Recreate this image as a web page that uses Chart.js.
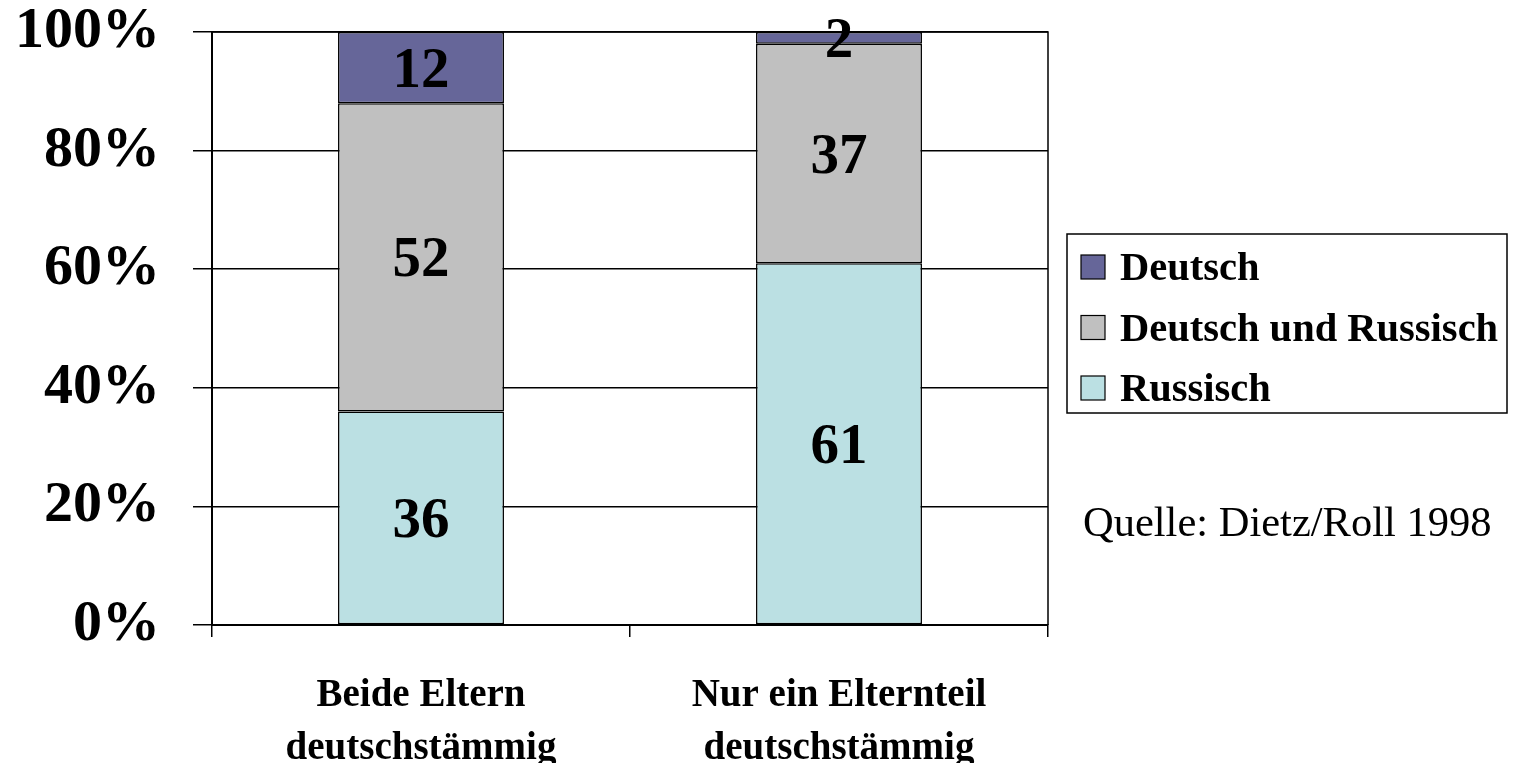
<!DOCTYPE html>
<html>
<head>
<meta charset="utf-8">
<title>Sprache</title>
<script src="https://cdn.jsdelivr.net/npm/chart.js@4/dist/chart.umd.min.js"></script>
<style>
  html, body { margin: 0; padding: 0; background: #fff; }
  #wrap { width: 1514px; height: 763px; }
</style>
</head>
<body>
<div id="wrap"><canvas id="myChart" width="1514" height="763"></canvas></div>
<script>
"use strict";

// data
const categories = [['Beide Eltern', 'deutschstämmig'], ['Nur ein Elternteil', 'deutschstämmig']];
const russisch = [36, 61];
const deutschUndRussisch = [52, 37];
const deutsch = [12, 2];
const yTickValues = [0, 20, 40, 60, 80, 100];
const sourceNote = 'Quelle: Dietz/Roll 1998';

const SERIF = "'Liberation Serif', 'Times New Roman', serif";

/* box around the plot area (right + top edge) */
const frame = {
    id: 'frame',
    beforeDatasetsDraw(chart) {
        const a = chart.chartArea, ctx = chart.ctx;
        ctx.save();
        ctx.strokeStyle = '#000';
        ctx.lineWidth = 1.5;
        ctx.beginPath();
        ctx.moveTo(a.left, a.top);
        ctx.lineTo(a.right, a.top);
        ctx.lineTo(a.right, a.bottom);
        ctx.stroke();
        ctx.restore();
    }
};

/* values written in the middle of each segment */
const segLabels = {
    id: 'segLabels',
    afterDatasetsDraw(chart) {
        const ctx = chart.ctx;
        ctx.save();
        ctx.font = 'bold 57px ' + SERIF;
        ctx.fillStyle = '#000';
        ctx.textAlign = 'center';
        ctx.textBaseline = 'alphabetic';
        chart.data.datasets.forEach((ds, i) => {
            chart.getDatasetMeta(i).data.forEach((bar, j) => {
                const p = bar.getCenterPoint();
                ctx.fillText(String(ds.data[j]), p.x, p.y + 19);
            });
        });
        ctx.restore();
    }
};

/* legend box + source note */
const sideLegend = {
    id: 'sideLegend',
    afterDraw(chart) {
        const ctx = chart.ctx;
        const bx = 1067, by = 234, bw = 440, bh = 179;
        ctx.save();
        ctx.fillStyle = '#fff';
        ctx.fillRect(bx, by, bw, bh);
        ctx.strokeStyle = '#000';
        ctx.lineWidth = 1.5;
        ctx.strokeRect(bx, by, bw, bh);

        const items = chart.data.datasets.slice().reverse();
        ctx.font = 'bold 40.5px ' + SERIF;
        ctx.textBaseline = 'alphabetic';
        items.forEach((ds, i) => {
            const cy = 267 + i * 60.5;
            ctx.fillStyle = ds.backgroundColor;
            ctx.fillRect(1081, cy - 12, 24, 24);
            ctx.lineWidth = 1.2;
            ctx.strokeStyle = '#000';
            ctx.strokeRect(1081, cy - 12, 24, 24);
            ctx.fillStyle = '#000';
            ctx.fillText(ds.label, 1120, cy + 13);
        });

        ctx.font = '42.5px ' + SERIF;
        ctx.fillText(sourceNote, 1083, 536);
        ctx.restore();
    }
};

const ctx = document.getElementById('myChart').getContext('2d');
const chart = new Chart(ctx, {
    type: 'bar',
    data: {
        labels: categories,
        datasets: [
            { label: 'Russisch', data: russisch, backgroundColor: '#BBE0E3' },
            { label: 'Deutsch und Russisch', data: deutschUndRussisch, backgroundColor: '#C0C0C0' },
            { label: 'Deutsch', data: deutsch, backgroundColor: '#666699' }
        ].map(d => Object.assign(d, {
            borderColor: '#000',
            borderWidth: 1.5,
            borderSkipped: false,
            categoryPercentage: 1,
            barPercentage: 0.397
        }))
    },
    options: {
        responsive: false,
        animation: false,
        devicePixelRatio: 1,
        layout: { padding: { top: 32, right: 466, left: 0, bottom: 0 } },
        plugins: {
            legend: { display: false },
            tooltip: { enabled: false }
        },
        scales: {
            x: {
                stacked: true,
                grid: { display: true, drawOnChartArea: false, drawTicks: true, tickLength: 12, color: '#000', lineWidth: 1.5, offset: true },
                border: { display: true, color: '#000', width: 2 },
                ticks: {
                    color: '#000',
                    padding: 32,
                    maxRotation: 0,
                    font: { family: SERIF, size: 39, weight: 'bold', lineHeight: 1.36 }
                },
                afterFit(scale) {
                    scale.height = 138;
                    scale.paddingLeft = 0;
                    scale.paddingRight = 0;
                }
            },
            y: {
                stacked: true,
                min: 0,
                max: 100,
                afterBuildTicks(scale) {
                    scale.ticks = yTickValues.map(v => ({ value: v }));
                },
                grid: { color: '#000', lineWidth: 1.5, tickLength: 19, drawTicks: true },
                border: { display: true, color: '#000', width: 2 },
                ticks: {
                    color: '#000',
                    padding: 33,
                    font: { family: SERIF, size: 58, weight: 'bold' },
                    callback: v => v + '%'
                },
                afterFit(scale) {
                    scale.width = 212;
                    scale.paddingTop = 0;
                    scale.paddingBottom = 0;
                }
            }
        }
    },
    plugins: [frame, segLabels, sideLegend]
});
</script>
</body>
</html>
